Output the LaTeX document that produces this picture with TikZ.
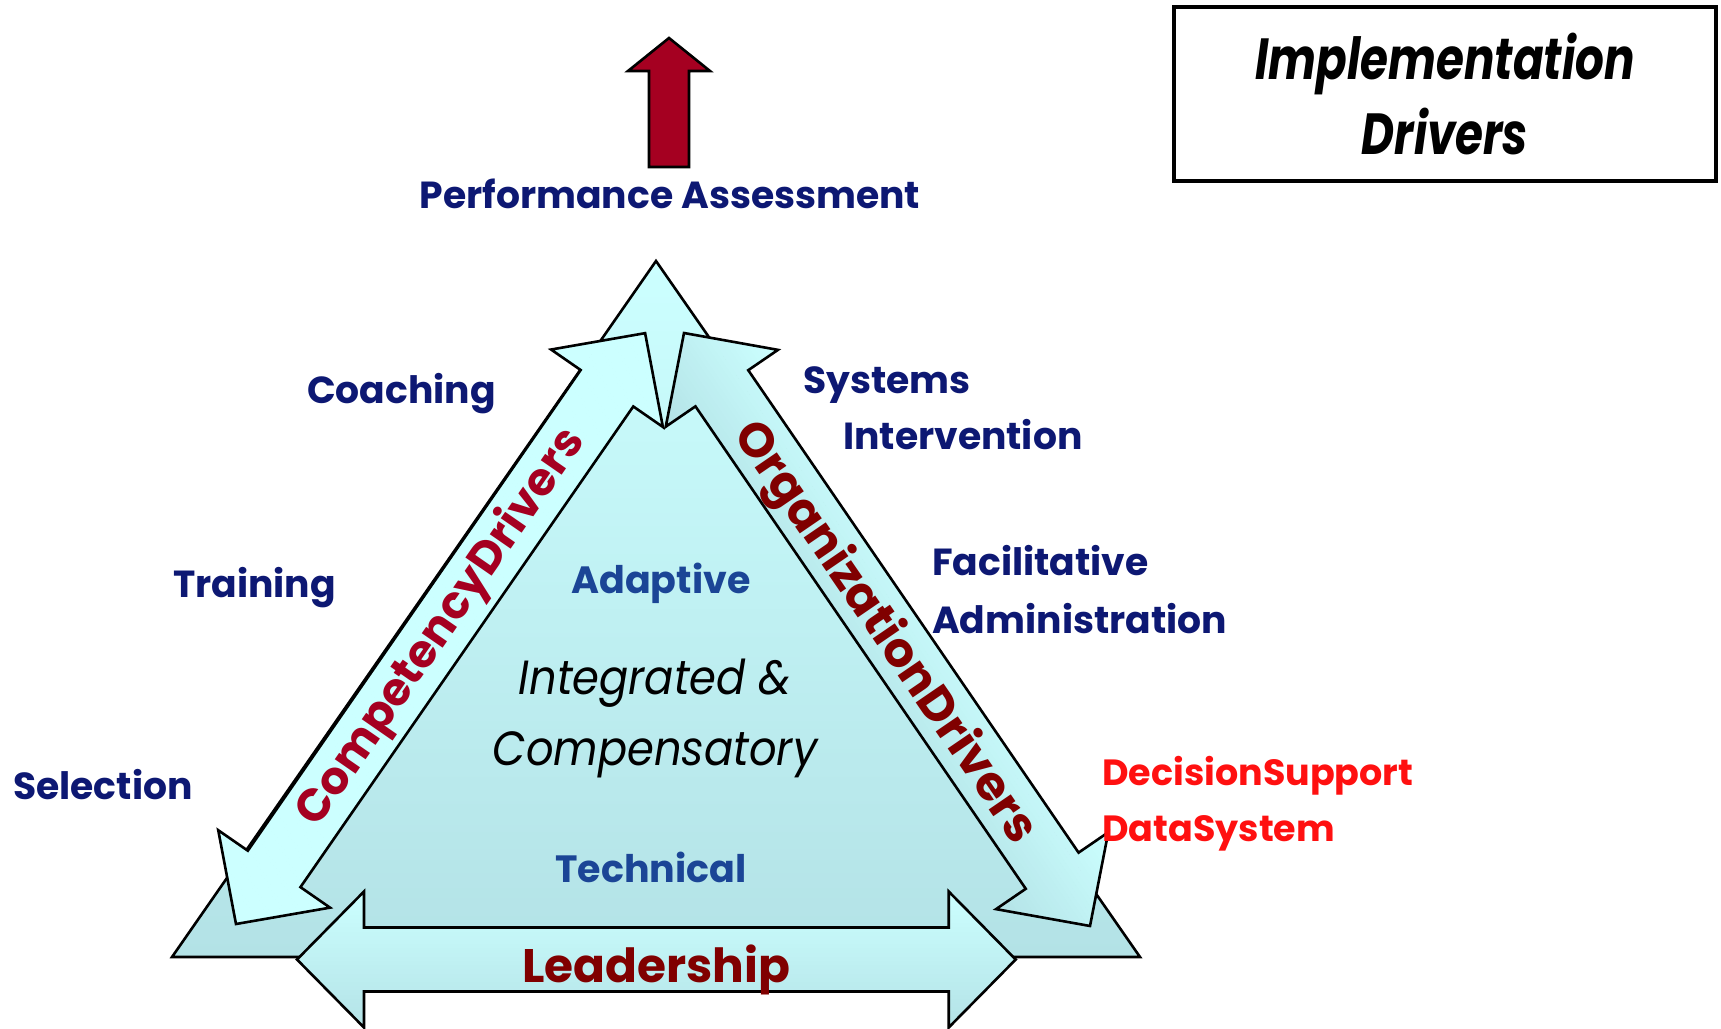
\documentclass[tikz,border=0pt]{standalone}
\usepackage{fontspec}
\setmainfont{Poppins}
\newfontfamily\popnarrow{Poppins}[FakeStretch=0.78]
\newfontfamily\popital{Poppins}[FakeStretch=0.9]
\definecolor{navy}{HTML}{0D1873}
\definecolor{midblue}{HTML}{1B4596}
\definecolor{crimson}{HTML}{A50021}
\definecolor{maroon}{HTML}{800000}
\definecolor{cyanL}{HTML}{CCFFFF}
\definecolor{cyanD}{HTML}{B3E2E6}
\definecolor{redtxt}{HTML}{FF1010}
\tikzset{
  outline/.style={draw=black, line width=2.6pt, line join=miter},
  lab/.style={font=\bfseries\fontsize{37.7}{40}\selectfont, text=navy, inner sep=0pt},
  innerlab/.style={font=\bfseries\fontsize{38}{40}\selectfont, text=midblue, inner sep=0pt},
  itallab/.style={font=\popital\itshape\fontsize{48}{50}\selectfont, text=black, inner sep=0pt},
  leadlab/.style={font=\bfseries\fontsize{47}{50}\selectfont, text=maroon, inner sep=0pt},
  drvlab/.style={font=\bfseries\fontsize{#1}{46}\selectfont, inner sep=0pt},
  dsslab/.style={font=\bfseries\fontsize{36.5}{38}\selectfont, text=redtxt, inner sep=0pt},
  dblarr/.pic={
    \begin{scope}
      \clip (0,0) -- (67,-68) -- (67,-32) -- (651.7,-32) -- (651.7,-68) -- (718.7,0)
        -- (651.7,68) -- (651.7,32) -- (67,32) -- (67,68) -- cycle;
      \foreach \i in {0,...,33} {
        \pgfmathsetmacro\pc{#1*\i/33}
        \fill[cyanD!\pc!cyanL] (-5,-70+\i*4.2) rectangle (725,-70+\i*4.2+4.8);
      }
    \end{scope}
    \draw[outline] (0,0) -- (67,-68) -- (67,-32) -- (651.7,-32) -- (651.7,-68) -- (718.7,0)
        -- (651.7,68) -- (651.7,32) -- (67,32) -- (67,68) -- cycle;
  }
}
\begin{document}
\begin{tikzpicture}[x=1pt,y=-1pt]
\useasboundingbox (0,0) rectangle (1721,1028);

% background triangle
\coordinate (T) at (656,261);
\coordinate (BL) at (172,957);
\coordinate (BR) at (1140,957);
\path[outline, top color=cyanL, bottom color=cyanD] (T) -- (BL) -- (BR) -- cycle;

% three double arrows
\pic[rotate=55.3] at (236,924) {dblarr=0};
\pic[rotate=-55.6] at (684,333) {dblarr=100};
\pic at (297,959.5) {dblarr=100};

% red arrow
\draw[outline, fill=crimson] (669,38) -- (710,71) -- (689,71) -- (689,167) -- (649,167) -- (649,71) -- (628,71) -- cycle;

% labels
\node[lab, anchor=base] (pa) at (670,208) {Performance Assessment};
\node[lab, anchor=base west] (coach) at (307,403) {Coaching};
\node[lab, anchor=base west] (sys) at (803,393) {Systems};
\node[lab, anchor=base west] (interv) at (843,449) {Intervention};
\node[lab, anchor=base west] (train) at (173,597) {Training};
\node[lab, anchor=base west] (facil) at (932,575) {Facilitative};
\node[lab, anchor=base west] (admin) at (932,633) {Administration};
\node[lab, anchor=base west] (sel) at (13,799) {Selection};

\node[innerlab, anchor=base] (adapt) at (661,593) {Adaptive};
\node[innerlab, anchor=base] (tech) at (651,882) {Technical};
\node[itallab, anchor=base] (integ) at (655,694) {Integrated \&};
\node[itallab, anchor=base] (compens) at (655,765) {Compensatory};
\node[leadlab, anchor=base] (lead) at (656,982) {Leadership};

\node[drvlab=45.5, text=crimson, rotate=55.3] (compdrv) at (442,628) {CompetencyDrivers};
\node[drvlab=48, text=maroon, rotate=-55.6] (orgdrv) at (884,633) {OrganizationDrivers};

\node[dsslab, anchor=base west] (dss1) at (1102,785) {DecisionSupport};
\node[dsslab, anchor=base west] (dss2) at (1102,841) {DataSystem};

% title box
\node[draw, line width=3.5pt, minimum width=542pt, minimum height=174pt, inner sep=0pt,
      align=center, font=\popnarrow\bfseries\itshape\fontsize{58}{75}\selectfont] (title) at (1445,94)
      {Implementation\\Drivers};
\end{tikzpicture}
\end{document}
